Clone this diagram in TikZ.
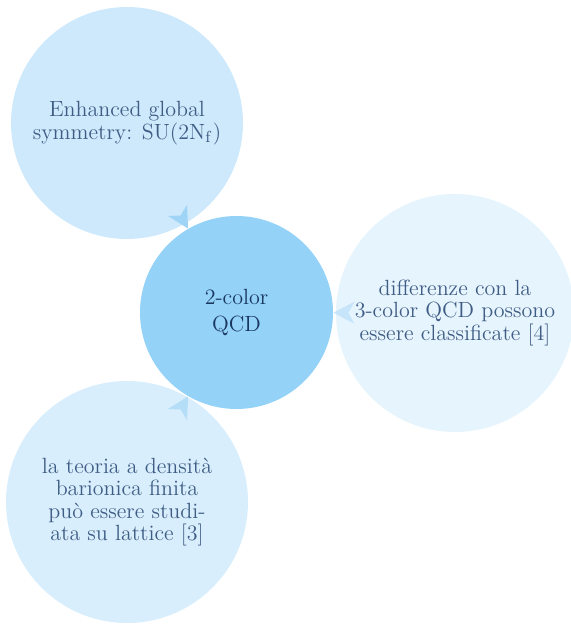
\documentclass[tikz,border=0pt]{standalone}
\usepackage{tikz}
\usetikzlibrary{arrows.meta,calc}

\definecolor{centerblue}{RGB}{148,210,248}
\definecolor{topblue}{RGB}{206,233,252}
\definecolor{rightblue}{RGB}{230,244,253}
\definecolor{bottomblue}{RGB}{216,238,252}
\definecolor{tophead}{RGB}{160,212,246}
\definecolor{righthead}{RGB}{198,229,250}
\definecolor{bottomhead}{RGB}{180,221,248}
\definecolor{textblue}{RGB}{62,92,132}
\definecolor{centertext}{RGB}{25,55,95}

\begin{document}
\begin{tikzpicture}[x=1pt,y=1pt]
    \tikzstyle{bubble}=[circle,inner sep=0pt,align=center,text=textblue,
        font=\fontsize{11}{11.3}\selectfont]
    \tikzstyle{center bubble}=[bubble,fill=centerblue,minimum size=96.5pt,
        text=centertext,font=\fontsize{11}{13.6}\selectfont]
    \tikzstyle{top bubble}=[bubble,fill=topblue,minimum size=116pt]
    \tikzstyle{right bubble}=[bubble,fill=rightblue,minimum size=119pt]
    \tikzstyle{bottom bubble}=[bubble,fill=bottomblue,minimum size=121pt]
    \tikzstyle{link}=[line width=0.6pt]

    \useasboundingbox (0,0) rectangle (285,-313);

    % Draw the bubbles
    \node[center bubble] (qcd) at (118.25,-156.25) {2-color\\QCD};
    \node[top bubble] (sym) at (63.5,-61.5)
        {Enhanced global\\symmetry: SU(2N$_\mathrm{f}$)};
    \node[right bubble] (diff) at (227.5,-156.5)
        {differenze con la\\3-color QCD possono\\essere classificate [4]};
    \node[bottom bubble] (lat) at (63.5,-251)
        {la teoria a densit\`a\\barionica finita\\pu\`o essere studi-\\ata su lattice [3]};

    % Start points of the links, just inside the outer bubbles
    \coordinate (sym-in) at ($(qcd)!60pt!(sym)$);
    \coordinate (diff-in) at ($(qcd)!60pt!(diff)$);
    \coordinate (lat-in) at ($(qcd)!60pt!(lat)$);

    % Connect every outer bubble with the center one
    \draw[link,topblue,-{Stealth[length=10.5pt,width=11pt,inset=3pt,color=tophead]}]
        (sym-in) -- (qcd);
    \draw[link,rightblue,-{Stealth[length=10.5pt,width=11pt,inset=3pt,color=righthead]}]
        (diff-in) -- (qcd);
    \draw[link,bottomblue,-{Stealth[length=10.5pt,width=11pt,inset=3pt,color=bottomhead]}]
        (lat-in) -- (qcd);
\end{tikzpicture}
\end{document}
